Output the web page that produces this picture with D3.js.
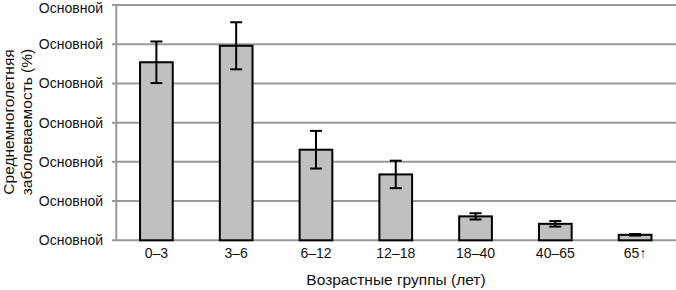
<!DOCTYPE html>
<html><head><meta charset="utf-8">
<script src="https://cdn.jsdelivr.net/npm/d3@7"></script>
<style>html,body{margin:0;padding:0;background:#fff;} svg{display:block;}</style>
</head><body>
<svg id="chart" width="676" height="290"></svg>
<script>
const categories = ["0–3","3–6","6–12","12–18","18–40","40–65","65↑"];
const values = [4.54, 4.96, 2.31, 1.68, 0.61, 0.42, 0.14];
const errors = [0.53, 0.60, 0.48, 0.35, 0.08, 0.07, 0.02];
const tickValues = [0,1,2,3,4,5,6];
const tickLabels = ["Основной","Основной","Основной","Основной","Основной","Основной","Основной"];
const yTitle = ["Среднемноголетняя","заболеваемость (%)"];
const xTitle = "Возрастные группы (лет)";

const svg = d3.select("#chart");
const font = "'Liberation Sans', Arial, sans-serif";
const x = d3.scaleBand().domain(categories).range([116.5, 675]).paddingInner(0.59).paddingOuter(0.295);
const y = d3.scaleLinear().domain([0,6]).range([240.3, 5]);

// gridlines
svg.append("g").selectAll("line").data(tickValues).join("line")
  .attr("x1", 112).attr("x2", 676)
  .attr("y1", d => y(d)).attr("y2", d => y(d))
  .attr("stroke", "#999").attr("stroke-width", 2);
// y axis line
svg.append("line").attr("x1", 116.3).attr("x2", 116.3).attr("y1", y(6)).attr("y2", y(0))
  .attr("stroke", "#999").attr("stroke-width", 2);

// y labels
svg.append("g").selectAll("text").data(tickValues).join("text")
  .attr("x", 103).attr("y", d => Math.max(y(d), 8)).attr("dy", "0.35em")
  .attr("text-anchor", "end").attr("font-family", font).attr("font-size", 14).attr("fill", "#111")
  .text((d,i) => tickLabels[i]);

// bars
svg.append("g").selectAll("rect").data(values).join("rect")
  .attr("x", (d,i) => x(categories[i])).attr("width", x.bandwidth())
  .attr("y", d => y(d)).attr("height", d => y(0) - y(d))
  .attr("fill", "#c0c0c0").attr("stroke", "#000").attr("stroke-width", 2);

// error bars
const eg = svg.append("g").attr("stroke", "#000").attr("stroke-width", 2);
values.forEach((v,i) => {
  const cx = x(categories[i]) + x.bandwidth()/2;
  const e = errors[i];
  eg.append("line").attr("x1", cx).attr("x2", cx).attr("y1", y(v+e)).attr("y2", y(v-e));
  eg.append("line").attr("x1", cx-6).attr("x2", cx+6).attr("y1", y(v+e)).attr("y2", y(v+e));
  eg.append("line").attr("x1", cx-6).attr("x2", cx+6).attr("y1", y(v-e)).attr("y2", y(v-e));
});

// x labels
svg.append("g").selectAll("text").data(categories).join("text")
  .attr("x", d => x(d) + x.bandwidth()/2).attr("y", 258)
  .attr("text-anchor", "middle").attr("font-family", font).attr("font-size", 14).attr("fill", "#111")
  .text(d => d);

// x title
svg.append("text").attr("x", 396).attr("y", 285).attr("text-anchor", "middle")
  .attr("font-family", font).attr("font-size", 15.5).attr("fill", "#111").text(xTitle);

// y title
const yt = svg.append("text").attr("transform", "translate(0,122) rotate(-90)")
  .attr("text-anchor", "middle").attr("font-family", font).attr("font-size", 15.5).attr("fill", "#111");
yt.append("tspan").attr("x", 0).attr("y", 14).text(yTitle[0]);
yt.append("tspan").attr("x", 0).attr("y", 32).text(yTitle[1]);
</script>
</body></html>
